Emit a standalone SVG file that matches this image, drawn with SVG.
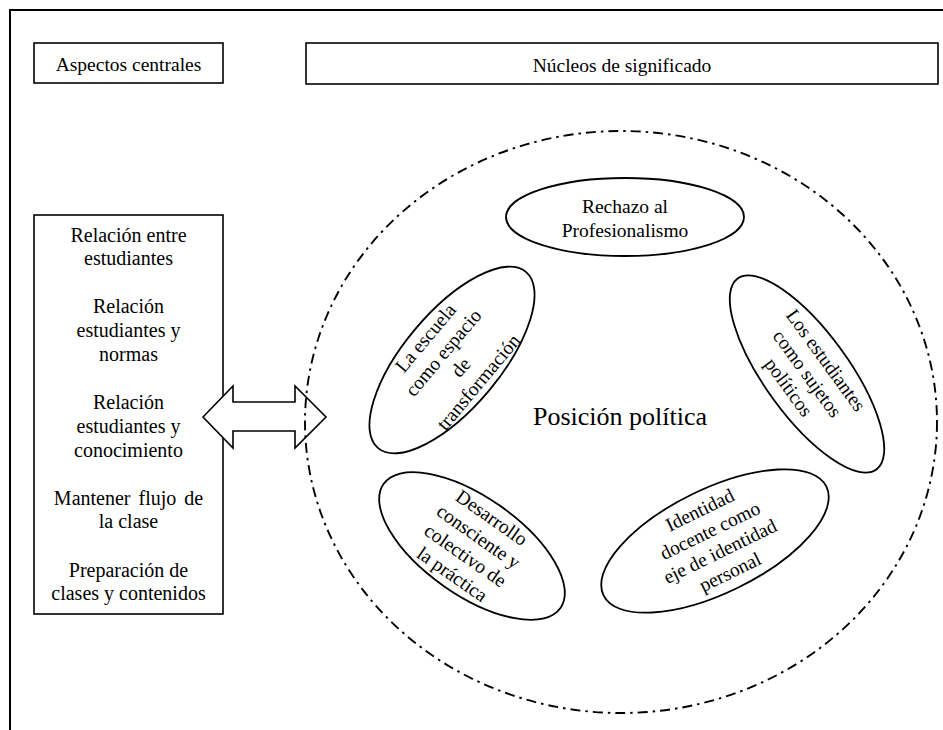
<svg xmlns="http://www.w3.org/2000/svg" width="943" height="730" viewBox="0 0 943 730">
<style>
  text { font-family: "Liberation Serif", "Times New Roman", serif; fill: #000; }
  .box { fill: #fff; stroke: #000; stroke-width: 1.6; }
  .ell { fill: #fff; stroke: #000; stroke-width: 1.8; }
  .t20 { font-size: 20px; text-anchor: middle; }
  .t19 { font-size: 19.5px; text-anchor: middle; }
  .dashdot { fill: none; stroke: #000; stroke-width: 1.9; stroke-dasharray: 10 5 2.5 5; }
</style>
<rect width="943" height="730" fill="#fff"/>
<g id="frame">
  <path d="M10 730 V10 H943" fill="none" stroke="#000" stroke-width="2"/>
</g>
<g id="aspectos-centrales">
  <rect class="box" x="34" y="43" width="189" height="40"/>
  <text class="t19" x="128.5" y="71">Aspectos centrales</text>
</g>
<g id="nucleos-de-significado">
  <rect class="box" x="306" y="43" width="632" height="41"/>
  <text class="t19" x="622" y="72">Núcleos de significado</text>
</g>
<g id="aspectos-lista">
  <rect class="box" x="34" y="215" width="189" height="399"/>
  <text class="t20" x="128.5" y="242">Relación entre</text>
  <text class="t20" x="128.5" y="265">estudiantes</text>
  <text class="t20" x="128.5" y="313">Relación</text>
  <text class="t20" x="128.5" y="337">estudiantes y</text>
  <text class="t20" x="128.5" y="361">normas</text>
  <text class="t20" x="128.5" y="409">Relación</text>
  <text class="t20" x="128.5" y="433">estudiantes y</text>
  <text class="t20" x="128.5" y="457">conocimiento</text>
  <text class="t20" x="128.5" y="505" word-spacing="3">Mantener flujo de</text>
  <text class="t20" x="128.5" y="528">la clase</text>
  <text class="t20" x="128.5" y="577">Preparación de</text>
  <text class="t20" x="128.5" y="600">clases y contenidos</text>
</g>
<g id="connectors">
  <polygon points="203,417 233,386 233,402 295,402 295,386 326,417 295,448 295,431 233,431 233,448" fill="#fff" stroke="#000" stroke-width="1.6" stroke-linejoin="miter"/>
</g>
<g id="posicion-politica-area">
  <ellipse class="dashdot" cx="621" cy="422" rx="316" ry="291"/>
  <text x="620" y="425" font-size="26" text-anchor="middle">Posición política</text>
</g>
<g id="rechazo">
  <ellipse class="ell" cx="625" cy="217" rx="119" ry="39"/>
  <text class="t19" x="625" y="213">Rechazo al</text>
  <text class="t19" x="625" y="237">Profesionalismo</text>
</g>
<g id="escuela" transform="translate(452,360) rotate(-50)">
  <ellipse class="ell" cx="0" cy="0" rx="115" ry="48"/>
  <text class="t19" x="0" y="-28">La escuela</text>
  <text class="t19" x="0" y="-5">como espacio</text>
  <text class="t19" x="0" y="18">de</text>
  <text class="t19" x="0" y="41">transformación</text>
</g>
<g id="estudiantes" transform="translate(807,374) rotate(54)">
  <ellipse class="ell" cx="0" cy="0" rx="118" ry="42"/>
  <text class="t19" x="0" y="-17">Los estudiantes</text>
  <text class="t19" x="0" y="6">como sujetos</text>
  <text class="t19" x="0" y="29">políticos</text>
</g>
<g id="identidad" transform="translate(715,541) rotate(-26)">
  <ellipse class="ell" cx="0" cy="0" rx="124" ry="52"/>
  <text class="t19" x="0" y="-28">Identidad</text>
  <text class="t19" x="0" y="-5">docente como</text>
  <text class="t19" x="0" y="18">eje de identidad</text>
  <text class="t19" x="0" y="41">personal</text>
</g>
<g id="desarrollo" transform="translate(472,546) rotate(35)">
  <ellipse class="ell" cx="0" cy="0" rx="108" ry="49"/>
  <text class="t19" x="0" y="-28">Desarrollo</text>
  <text class="t19" x="0" y="-5">consciente y</text>
  <text class="t19" x="0" y="18">colectivo de</text>
  <text class="t19" x="0" y="41">la práctica</text>
</g>
</svg>
